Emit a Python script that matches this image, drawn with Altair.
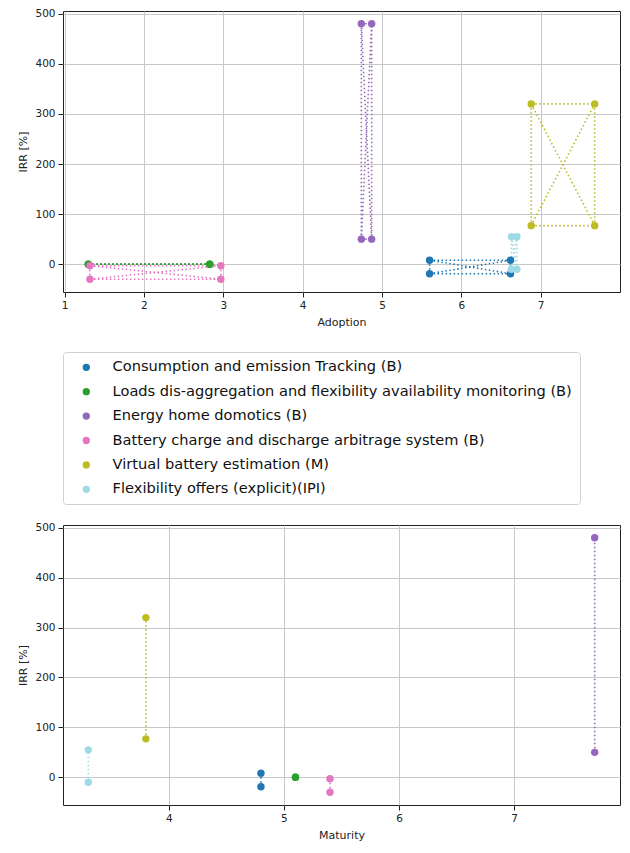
import itertools
import altair as alt
import pandas as pd

techs = [
    "Consumption and emission Tracking (B)",
    "Loads dis-aggregation and flexibility availability monitoring (B)",
    "Energy home domotics (B)",
    "Battery charge and discharge arbitrage system (B)",
    "Virtual battery estimation (M)",
    "Flexibility offers (explicit)(IPI)",
]
colors = ["#1f77b4", "#2ca02c", "#9467bd", "#e377c2", "#bcbd22", "#9edae5"]

adopt_lo = [5.60, 1.30, 4.74, 1.32, 6.88, 6.63]
adopt_hi = [6.62, 2.83, 4.87, 2.97, 7.68, 6.70]
irr_lo = [-19, 0, 50, -30, 77, -10]
irr_hi = [8, 0, 480, -3, 320, 55]
maturity = [4.8, 5.1, 7.7, 5.4, 3.8, 3.3]

# ---- tables built from the arrays ----
top_pts, top_edges, bot_pts, bot_edges = [], [], [], []
for i, t in enumerate(techs):
    corners = [(a, r) for a in (adopt_lo[i], adopt_hi[i]) for r in (irr_lo[i], irr_hi[i])]
    for a, r in corners:
        top_pts.append({"tech": t, "k": i, "x": a, "y": r})
    for e, (p, q) in enumerate(itertools.combinations(corners, 2)):
        for a, r in (p, q):
            top_edges.append({"tech": t, "k": i, "edge": f"{i}-{e}", "x": a, "y": r})
    for r in (irr_lo[i], irr_hi[i]):
        bot_pts.append({"tech": t, "k": i, "x": maturity[i], "y": r})
        bot_edges.append({"tech": t, "k": i, "edge": f"{i}", "x": maturity[i], "y": r})

top_pts = pd.DataFrame(top_pts)
top_edges = pd.DataFrame(top_edges)
bot_pts = pd.DataFrame(bot_pts)
bot_edges = pd.DataFrame(bot_edges)


def pad(lo, hi, m=0.05):
    d = (hi - lo) * m
    return [lo - d, hi + d]


ydom = pad(min(irr_lo), max(irr_hi))
xdom_top = pad(min(adopt_lo), max(adopt_hi))
xdom_bot = pad(min(maturity), max(maturity))

color = alt.Color(
    "tech:N",
    scale=alt.Scale(domain=techs, range=colors),
    sort=techs,
    title=None,
    legend=alt.Legend(
        orient="none",
        legendX=0,
        legendY=341,
        direction="vertical",
        labelFontSize=14.6,
        labelColor="#111",
        symbolType="circle",
        symbolSize=34,
        symbolOpacity=1,
        symbolOffset=8,
        labelOffset=19,
        rowPadding=9.4,
        padding=8,
        fillColor="white",
        strokeColor="#d0d0d0",
        cornerRadius=3,
        labelLimit=600,
    ),
)

yaxis = alt.Axis(values=[0, 100, 200, 300, 400, 500], title="IRR [%]")


def panel(edges, pts, xdom, xticks, xtitle, h):
    x = alt.X("x:Q", scale=alt.Scale(domain=xdom, nice=False, zero=False),
              axis=alt.Axis(values=xticks, title=xtitle, format="d"))
    y = alt.Y("y:Q", scale=alt.Scale(domain=ydom, nice=False, zero=False), axis=yaxis)
    lines = alt.Chart(edges).mark_line(strokeDash=[1.5, 2.5], strokeWidth=1.6).encode(
        x=x, y=y, color=color, detail="edge:N"
    )
    dots = alt.Chart(pts).mark_circle(size=55, opacity=1).encode(
        x=x, y=y, color=color, order="k:Q"
    )
    return alt.layer(lines, dots).properties(width=557, height=h)


top = panel(top_edges, top_pts, xdom_top, [1, 2, 3, 4, 5, 6, 7], "Adoption", 281)
bottom = panel(bot_edges, bot_pts, xdom_bot, [4, 5, 6, 7], "Maturity", 280)

chart = (
    alt.vconcat(top, bottom, spacing=233, bounds="flush")
    .resolve_scale(color="shared")
    .properties(padding={"left": 9, "top": 0, "right": 0, "bottom": 0})
    .configure(font="DejaVu Sans")
    .configure_view(stroke="#222", strokeWidth=1)
    .configure_axis(
        domain=False,
        tickColor="#222",
        tickSize=5,
        labelFontSize=10.5,
        labelColor="#222",
        labelPadding=3,
        titleFontSize=11,
        titleFontWeight="normal",
        titleColor="#222",
        titlePadding=6,
        gridColor="#c8c8c8",
        gridWidth=1,
    )
)

chart.save("out.html", embed_options={"renderer": "svg", "actions": False})
